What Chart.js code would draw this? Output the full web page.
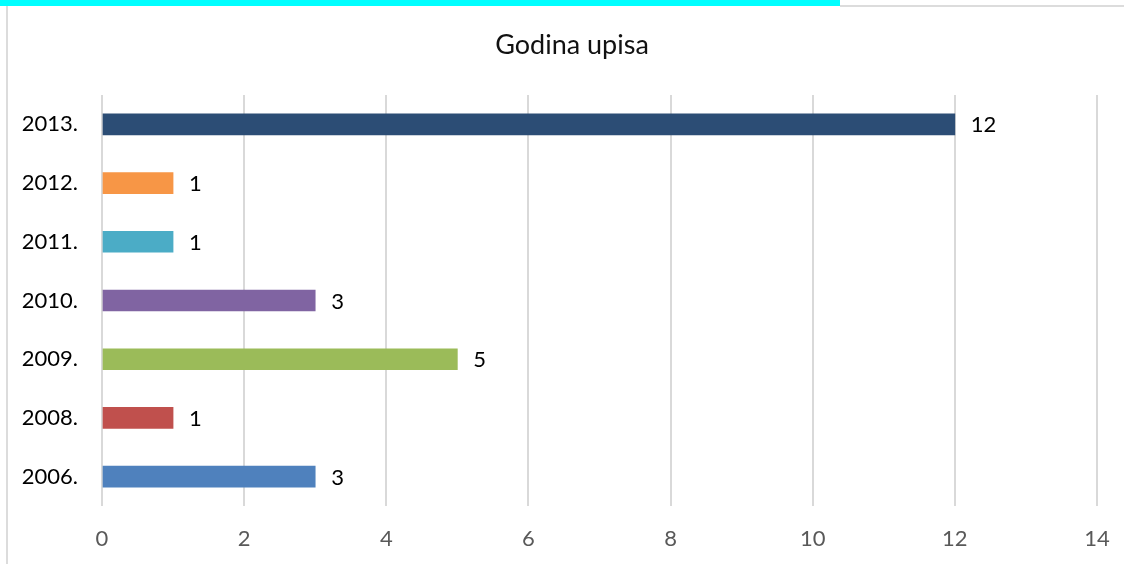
<!DOCTYPE html>
<html>
<head>
<meta charset="utf-8">
<script src="https://cdn.jsdelivr.net/npm/chart.js@4"></script>
<style>
  html, body { margin: 0; padding: 0; background: #fff; overflow: hidden; }
  #wrap { position: relative; width: 1124px; height: 564px; }
  #strip { position: absolute; left: 0; top: 0; width: 840px; height: 6px; background: #00ffff; }
  #topline { position: absolute; left: 840px; top: 5px; width: 284px; height: 2px; background: #dcdcdc; }
  #leftline { position: absolute; left: 6px; top: 6px; width: 2px; height: 558px; background: #dcdcdc; }
  canvas { position: absolute; left: 0; top: 0; }
</style>
</head>
<body>
<div id="wrap">
  <canvas id="chart" width="1124" height="564"></canvas>
  <div id="strip"></div>
  <div id="topline"></div>
  <div id="leftline"></div>
</div>
<script>
// chart data
const chartTitle = "Godina upisa";
const years = ["2013.", "2012.", "2011.", "2010.", "2009.", "2008.", "2006."];
const counts = [12, 1, 1, 3, 5, 1, 3];
const barColors = ["#2C4D75", "#F79646", "#4BACC6", "#8064A2", "#9BBB59", "#C0504D", "#4F81BD"];
const xTicks = [0, 2, 4, 6, 8, 10, 12, 14];

const FONT = "Lato, 'Open Sans', sans-serif";

// title + value labels right of each bar
const extraText = {
    id: "extraText",
    afterDatasetsDraw(chart) {
        const ctx = chart.ctx;
        ctx.save();
        ctx.font = "27px " + FONT;
        ctx.fillStyle = "#111";
        ctx.textAlign = "center";
        ctx.textBaseline = "alphabetic";
        ctx.fillText(chartTitle, 572, 54);

        ctx.font = "22px " + FONT;
        ctx.fillStyle = "#000";
        ctx.textAlign = "left";
        ctx.textBaseline = "middle";
        chart.getDatasetMeta(0).data.forEach((bar, i) => {
            ctx.fillText(String(counts[i]), bar.x + 16, bar.y + 1);
        });
        ctx.restore();
    }
};

new Chart(document.getElementById("chart"), {
    type: "bar",
    data: {
        labels: years,
        datasets: [{
            data: counts,
            backgroundColor: barColors,
            borderWidth: 0,
            barThickness: 21
        }]
    },
    options: {
        indexAxis: "y",
        responsive: false,
        animation: false,
        layout: { padding: { left: 0, right: 27, top: 95, bottom: 0 } },
        plugins: {
            legend: { display: false },
            tooltip: { enabled: false },
            title: { display: false }
        },
        scales: {
            x: {
                min: 0,
                max: 14,
                afterBuildTicks(axis) {
                    axis.ticks = xTicks.map(v => ({ value: v }));
                },
                afterFit(axis) {
                    axis.height = 58;
                    axis.paddingLeft = 0;
                    axis.paddingRight = 0;
                },
                grid: { color: "#d9d9d9", lineWidth: 2, drawTicks: false },
                border: { display: false },
                ticks: {
                    color: "#595959",
                    font: { family: FONT, size: 22 },
                    padding: 20,
                    maxRotation: 0
                }
            },
            y: {
                afterFit(axis) { axis.width = 102; },
                grid: { display: false, drawTicks: false },
                border: { display: false },
                ticks: {
                    color: "#000",
                    font: { family: FONT, size: 22 },
                    padding: 24
                }
            }
        }
    },
    plugins: [extraText]
});
</script>
</body>
</html>
